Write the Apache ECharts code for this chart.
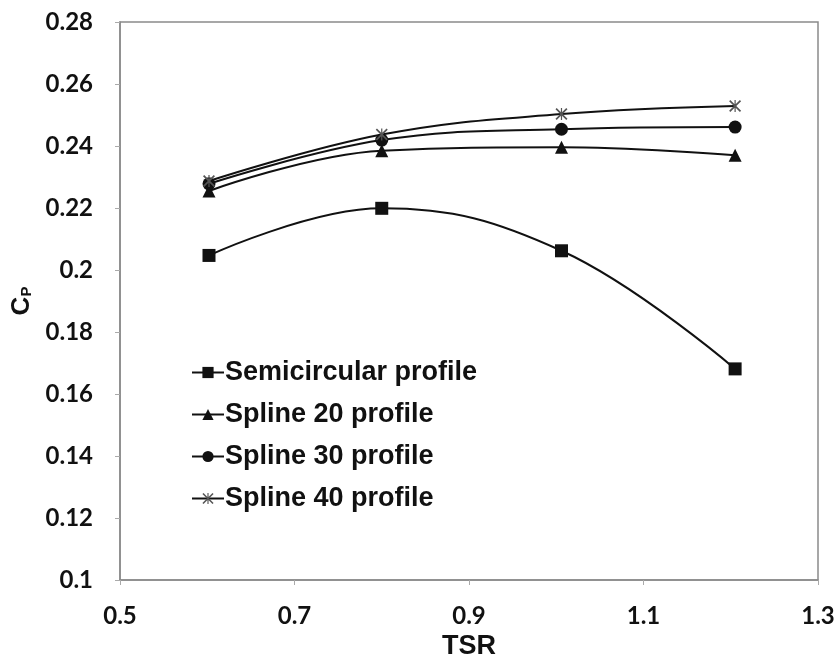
<!DOCTYPE html>
<html>
<head>
<meta charset="utf-8">
<script src="https://cdn.jsdelivr.net/npm/echarts@6/dist/echarts.min.js"></script>
<style>
html, body { margin: 0; padding: 0; background: #fff; }
#main { width: 837px; height: 656px; }
</style>
</head>
<body>
<div id="main"></div>
<script>
// TSR positions of the measured points
var tsr = [0.602, 0.8, 1.006, 1.205];
// Cp values per profile
var semicircular = [0.2047, 0.2199, 0.2062, 0.1681];
var spline20 = [0.2255, 0.2385, 0.2396, 0.2370];
var spline30 = [0.2278, 0.2419, 0.2454, 0.2461];
var spline40 = [0.2287, 0.2437, 0.2503, 0.2529];
var seriesNames = ['Semicircular profile', 'Spline 20 profile', 'Spline 30 profile', 'Spline 40 profile'];

var xTicks = [0.5, 0.7, 0.9, 1.1, 1.3];
var yMin = 0.1, yMax = 0.28, yStep = 0.02;

// asterisk-like cross marker
var starPath = 'path://M2,0 L10,8 L18,0 L20,2 L12,10 L20,18 L18,20 L10,12 L2,20 L0,18 L8,10 L0,2 Z M9,0 L11,0 L11,20 L9,20 Z';

function pairs(ys) {
    return ys.map(function (v, i) { return [tsr[i], v]; });
}

var tickFont = { fontFamily: 'Lato', fontWeight: 'bold', fontSize: 24, color: '#111' };

var chart = echarts.init(document.getElementById('main'));
chart.setOption({
    backgroundColor: '#fff',
    animation: false,
    grid: {
        left: 120, top: 22, right: 19, bottom: 76,
        outerBoundsMode: 'none',
        show: true, borderColor: '#8a8a8a', borderWidth: 1.5
    },
    legend: {
        orient: 'vertical',
        left: 186, top: 354,
        itemGap: 15,
        itemWidth: 32, itemHeight: 14,
        data: seriesNames,
        textStyle: { fontFamily: 'Liberation Sans', fontWeight: 'bold', fontSize: 27, color: '#111', padding: [0, 0, 0, -4] }
    },
    xAxis: {
        type: 'value', min: xTicks[0], max: xTicks[xTicks.length - 1], interval: 0.2,
        name: 'TSR', nameLocation: 'middle', nameGap: 52,
        nameTextStyle: { fontFamily: 'Liberation Sans', fontWeight: 'bold', fontSize: 27, color: '#111' },
        axisLine: { lineStyle: { color: '#8a8a8a', width: 1.5 } },
        axisTick: { show: true, inside: false, length: 5, lineStyle: { color: '#aaa' } },
        axisLabel: Object.assign({ margin: 24 }, tickFont),
        splitLine: { show: false }
    },
    yAxis: {
        type: 'value', min: yMin, max: yMax, interval: yStep,
        name: '{c|C}{p|P}', nameLocation: 'middle', nameGap: 72, nameRotate: 90,
        nameTextStyle: {
            rich: {
                c: { fontFamily: 'Liberation Sans', fontWeight: 'bold', fontSize: 26, color: '#111' },
                p: { fontFamily: 'Liberation Sans', fontWeight: 'bold', fontSize: 15, color: '#111', verticalAlign: 'bottom', padding: [10, 0, 0, 0] }
            }
        },
        axisLine: { lineStyle: { color: '#8a8a8a', width: 1.5 } },
        axisTick: { show: true, inside: false, length: 5, lineStyle: { color: '#aaa' } },
        axisLabel: Object.assign({ margin: 27 }, tickFont),
        splitLine: { show: false }
    },
    series: [
        {
            name: seriesNames[0], type: 'line', smooth: 0.4,
            data: pairs(semicircular),
            symbol: 'rect', symbolSize: 13,
            itemStyle: { color: '#111' }, lineStyle: { color: '#111', width: 2 }
        },
        {
            name: seriesNames[1], type: 'line', smooth: 0.4,
            data: pairs(spline20),
            symbol: 'triangle', symbolSize: 13,
            itemStyle: { color: '#111' }, lineStyle: { color: '#111', width: 2 }
        },
        {
            name: seriesNames[2], type: 'line', smooth: 0.4,
            data: pairs(spline30),
            symbol: 'circle', symbolSize: 13,
            itemStyle: { color: '#111' }, lineStyle: { color: '#111', width: 2 }
        },
        {
            name: seriesNames[3], type: 'line', smooth: 0.4,
            data: pairs(spline40),
            symbol: starPath, symbolSize: 12,
            itemStyle: { color: '#555' }, lineStyle: { color: '#111', width: 2 }
        }
    ]
});
</script>
</body>
</html>
